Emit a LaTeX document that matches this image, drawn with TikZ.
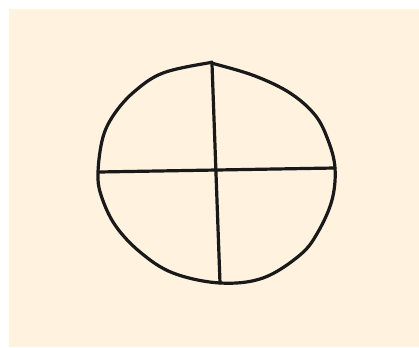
\documentclass[tikz,border=0pt]{standalone}
\begin{document}
\begin{tikzpicture}[x=1pt,y=-1pt,
 ink/.style={draw=black!90,line width=3.2pt,line cap=round,line join=round}]
 \useasboundingbox (0,0) rectangle (419,347);
 \fill[fill={rgb,255:red,255;green,242;blue,223}] (9,9) rectangle (419,347);
 % outline of the round shape
 \draw[ink] plot[smooth cycle,tension=0.6] coordinates {
  (208,63) (215,64) (255,76) (290,93) (315,115) (328,140) (335,168)
  (332,200) (318,232) (300,255) (263,278) (220,283)
  (173,273) (140,252) (115,225) (101,195) (98,172)
  (103,137) (115,113) (135,91) (163,73)};
 % the two cross strokes
 \coordinate (top) at (212,64);
 \coordinate (bot) at (220,283);
 \coordinate (lft) at (99,172);
 \coordinate (rgt) at (335,168);
 \draw[ink] (top) -- (bot);
 \draw[ink] (lft) -- (rgt);
\end{tikzpicture}
\end{document}
